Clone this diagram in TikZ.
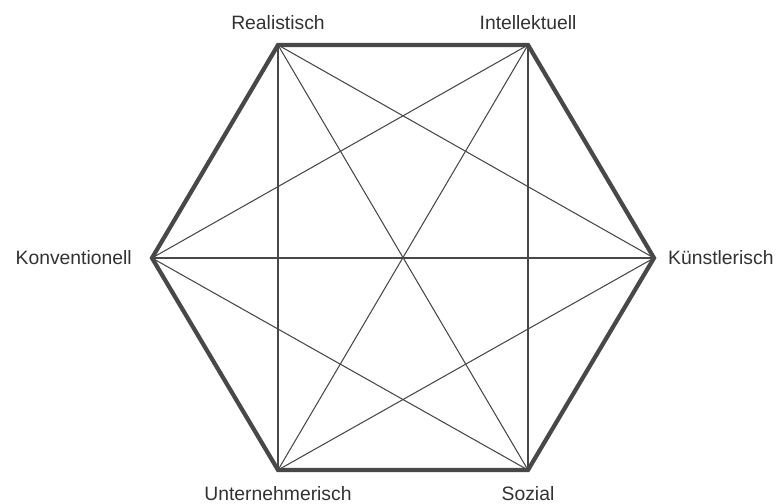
\documentclass[tikz,border=0pt]{standalone}
\usepackage{fontspec}
\setmainfont{Liberation Sans}
\usepackage{tikz}
\usetikzlibrary{positioning}
\definecolor{edgegray}{RGB}{72,72,72}
\definecolor{textgray}{RGB}{50,50,50}

\begin{document}
\begin{tikzpicture}[
  x=0.03cm, y=-0.03cm,
  label/.style={inner sep=0pt, font=\fontsize{16.5}{20}\selectfont, text=textgray},
  rim/.style={line width=3.6pt, edgegray, line join=miter},
  chord/.style={line width=0.9pt, edgegray},
]
\useasboundingbox (0,0) rectangle (776,504);

% corners of the hexagon
\coordinate (rea) at (278,45);
\coordinate (int) at (528,45);
\coordinate (kue) at (654,258);
\coordinate (soz) at (528,470);
\coordinate (unt) at (278,470);
\coordinate (kon) at (152,258);

\node[label, above=0.45cm of rea] (lrea) {Realistisch};
\node[label, above=0.45cm of int] (lint) {Intellektuell};
\node[label, right=0.42cm of kue] (lkue) {Künstlerisch};
\node[label, below=0.5cm of soz] (lsoz) {Sozial};
\node[label, below=0.5cm of unt] (lunt) {Unternehmerisch};
\node[label, left=0.6cm of kon] (lkon) {Konventionell};

\draw[chord] (rea) -- (unt);
\draw[chord] (rea) -- (soz);
\draw[chord] (rea) -- (kue);
\draw[chord] (int) -- (soz);
\draw[chord] (int) -- (unt);
\draw[chord] (int) -- (kon);
\draw[chord] (kon) -- (kue);
\draw[chord] (kon) -- (soz);
\draw[chord] (unt) -- (kue);

\draw[rim] (rea) -- (int) -- (kue) -- (soz) -- (unt) -- (kon) -- cycle;

\end{tikzpicture}
\end{document}
